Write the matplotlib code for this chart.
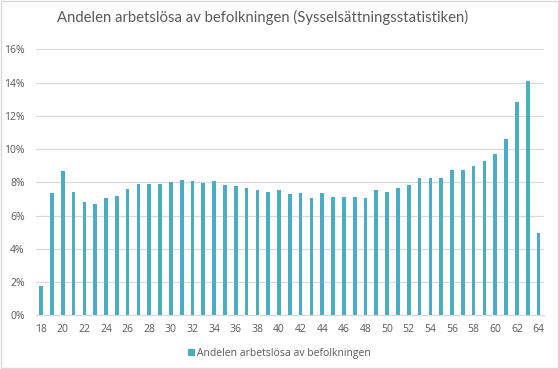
import matplotlib
matplotlib.use("Agg")
import matplotlib.pyplot as plt
from matplotlib.ticker import PercentFormatter
from matplotlib.patches import Rectangle

# Ages and share of unemployed in population (%)
ages = list(range(18, 65))
values = [1.76, 7.36, 8.68, 7.42, 6.82, 6.70, 7.06, 7.18, 7.60, 7.90,
          7.90, 7.90, 8.02, 8.14, 8.08, 7.96, 8.08, 7.84, 7.78, 7.66,
          7.54, 7.42, 7.54, 7.30, 7.36, 7.06, 7.36, 7.12, 7.12, 7.12,
          7.06, 7.54, 7.42, 7.66, 7.84, 8.26, 8.26, 8.26, 8.74, 8.74,
          8.98, 9.28, 9.70, 10.61, 12.83, 14.10, 4.95]
series_name = "Andelen arbetslösa av befolkningen"
title = "Andelen arbetslösa av befolkningen (Sysselsättningsstatistiken)"

plt.rcParams['font.family'] = ['Open Sans', 'DejaVu Sans']
text_color = "#595959"
grid_color = "#d9d9d9"
bar_color = "#4bacc6"

fig = plt.figure(figsize=(5.59, 3.69), dpi=100)
ax = fig.add_axes([0.0639, 0.1455, 0.9091, 0.7209])

x = list(range(len(ages)))
ax.bar(x, values, width=0.34, color=bar_color, label=series_name, zorder=3)

ax.set_xlim(-0.5, len(ages) - 0.5)
ax.set_ylim(0, 16)
ax.set_yticks(range(0, 17, 2))
ax.yaxis.set_major_formatter(PercentFormatter(decimals=0))
ax.set_xticks(x[::2])
ax.set_xticklabels([str(a) for a in ages[::2]])
ax.tick_params(axis='both', length=0, labelsize=7.5, labelcolor=text_color)
ax.tick_params(axis='x', pad=6)
ax.tick_params(axis='y', pad=8)

ax.grid(axis='y', color=grid_color, linewidth=0.9, zorder=0)
for side in ['top', 'right', 'left']:
    ax.spines[side].set_visible(False)
ax.spines['bottom'].set_color(grid_color)

fig.suptitle(title, x=0.469, y=0.972, fontsize=10.7, color=text_color,
             family=['Lato', 'DejaVu Sans'])

ax.legend(loc='lower center', bbox_to_anchor=(0.48, -0.18), ncol=1,
          frameon=False, fontsize=7.5, labelcolor=text_color,
          handlelength=0.7, handleheight=0.7, handletextpad=0.2,
          borderaxespad=0)

fig.patches.append(Rectangle((0.001, 0.002), 0.997, 0.995, transform=fig.transFigure,
                             fill=False, edgecolor=grid_color, linewidth=1))

fig.savefig("out.png", dpi=100)
